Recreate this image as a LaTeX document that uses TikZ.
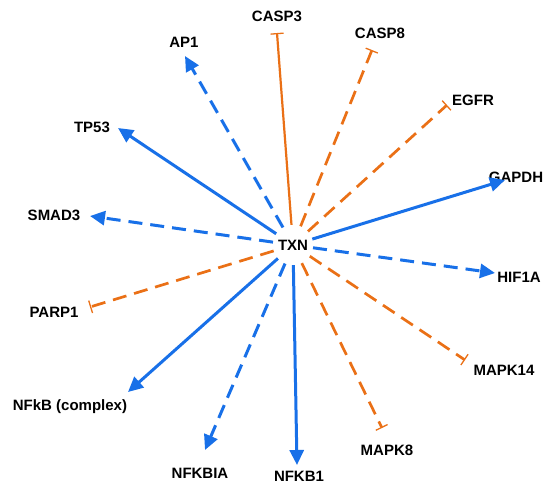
\documentclass[tikz,border=0pt]{standalone}
\usepackage{fontspec}
\setmainfont{Liberation Sans}
\usetikzlibrary{arrows.meta}
\definecolor{actblue}{RGB}{24,112,232}
\definecolor{inhorange}{RGB}{234,112,22}

\begin{document}
\begin{tikzpicture}[x=1pt,y=-1pt,
		gene/.style={font=\fontsize{15}{17}\selectfont\bfseries, inner sep=1pt},
		act/.style={actblue, line width=3pt, -{Triangle[length=15pt,width=14pt]}},
		inh/.style={inhorange, line width=2.7pt, -{Bar[width=13pt,line width=1.3pt]}},
		dashline/.style={dash pattern=on 14pt off 8pt}
	]
	\useasboundingbox (0,0) rectangle (544,485);
	
	\node[gene, circle, minimum size=40pt] (txn) at (293,245) {TXN};
	
	\node[gene] (casp3) at (277,16) {CASP3};
	\node[gene] (ap1) at (184,42) {AP1};
	\node[gene] (casp8) at (380,33) {CASP8};
	\node[gene] (egfr) at (473,100) {EGFR};
	\node[gene] (gapdh) at (516,177) {GAPDH};
	\node[gene] (hif1a) at (519,277) {HIF1A};
	\node[gene] (mapk14) at (504,370) {MAPK14};
	\node[gene] (mapk8) at (387,450) {MAPK8};
	\node[gene] (nfkb1) at (299,476) {NFKB1};
	\node[gene] (nfkbia) at (200,473) {NFKBIA};
	\node[gene] (nfkbc) at (70,407) {NFkB (complex)};
	\node[gene] (parp1) at (54,312) {PARP1};
	\node[gene] (smad3) at (54,215) {SMAD3};
	\node[gene] (tp53) at (92,127) {TP53};
	
	% ends of the edges, just short of the labels
	\coordinate (casp3-end) at (277,33);
	\coordinate (ap1-end) at (185,56);
	\coordinate (casp8-end) at (372,50);
	\coordinate (egfr-end) at (447,105);
	\coordinate (gapdh-end) at (505,180);
	\coordinate (hif1a-end) at (495,273);
	\coordinate (mapk14-end) at (465,360);
	\coordinate (mapk8-end) at (382,428);
	\coordinate (nfkb1-end) at (297,465);
	\coordinate (nfkbia-end) at (205,450);
	\coordinate (nfkbc-end) at (128,392);
	\coordinate (parp1-end) at (90,307);
	\coordinate (smad3-end) at (90,216);
	\coordinate (tp53-end) at (118,128);
	
	\draw[inh, line width=2.2pt] (txn) -- (casp3-end);
	\draw[act, dashline] (txn) -- (ap1-end);
	\draw[inh, dashline] (txn) -- (casp8-end);
	\draw[inh, dashline] (txn) -- (egfr-end);
	\draw[act] (txn) -- (gapdh-end);
	\draw[act, dashline] (txn) -- (hif1a-end);
	\draw[inh, dashline] (txn) -- (mapk14-end);
	\draw[inh, dashline] (txn) -- (mapk8-end);
	\draw[act] (txn) -- (nfkb1-end);
	\draw[act, dashline] (txn) -- (nfkbia-end);
	\draw[act] (txn) -- (nfkbc-end);
	\draw[inh, dashline] (txn) -- (parp1-end);
	\draw[act, dashline] (txn) -- (smad3-end);
	\draw[act] (txn) -- (tp53-end);
\end{tikzpicture}
\end{document}
